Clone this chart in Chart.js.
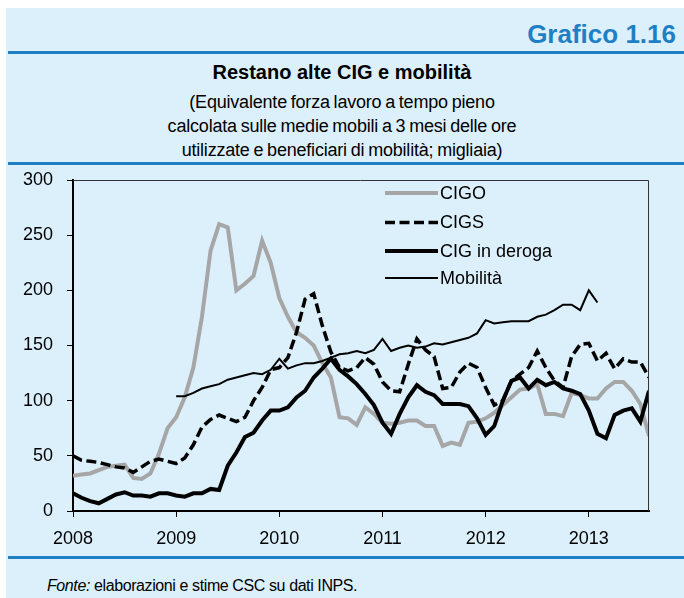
<!DOCTYPE html>
<html>
<head>
<meta charset="utf-8">
<script src="https://cdn.jsdelivr.net/npm/chart.js@4"></script>
<style>
body{margin:0;width:684px;height:598px;background:#fff;position:relative;overflow:hidden;font-family:"Liberation Sans",Arial,sans-serif;color:#000}
#box{position:absolute;left:6px;top:8px;width:678px;height:590px;background:#dcf0fc}
.rule{position:absolute;left:8px;width:676px;height:3px;background:#1f7fc4}
#num{position:absolute;right:8px;top:19px;font-weight:bold;font-size:26px;color:#1f7fc4}
#title{position:absolute;left:0;width:684px;top:61px;text-align:center;font-weight:bold;font-size:20px}
#sub{position:absolute;left:0;width:684px;top:90px;text-align:center;font-size:18px;line-height:24px;letter-spacing:-0.2px;word-spacing:-1px}
#fonte{position:absolute;left:47px;top:577px;font-size:16px;letter-spacing:-0.4px}
canvas{position:absolute;left:0;top:0}
</style>
</head>
<body>
<div id="box"></div>
<div id="num">Grafico 1.16</div>
<div class="rule" style="top:51px"></div>
<div id="title">Restano alte CIG e mobilità</div>
<div id="sub">(Equivalente forza lavoro a tempo pieno<br>calcolata sulle medie mobili a 3 mesi delle ore<br>utilizzate e beneficiari di mobilità; migliaia)</div>
<div class="rule" style="top:162px"></div>
<div class="rule" style="top:556px"></div>
<div id="fonte"><i>Fonte:</i> elaborazioni e stime CSC su dati INPS.</div>
<canvas id="canvas" width="684" height="598"></canvas>
<script>
// mesi da gennaio 2008 (0) ad agosto 2013 (67)
var yearLabels = ['2008', '2009', '2010', '2011', '2012', '2013'];
var seriesNames = ['CIGO', 'CIGS', 'CIG in deroga', 'Mobilità'];

var cigo = [32, 33, 34, 37, 40, 41, 42, 30, 29, 34, 52, 75, 85, 103, 130, 176, 236, 260, 257, 200,
    206, 213, 245, 225, 193, 176, 162, 157, 150, 134, 121, 85, 84, 78, 94, 88, 80, 79, 80, 82,
    82, 77, 77, 59, 62, 60, 80, 81, 84, 89, 96, 103, 110, 111, 115, 88, 88, 86, 107, 105,
    102, 102, 111, 117, 117, 109, 97, 68];
var cigs = [50, 46, 45, 44, 42, 40, 39, 35, 40, 45, 47, 45, 43, 48, 60, 76, 83, 87, 84, 81,
    85, 100, 112, 128, 130, 139, 162, 192, 197, 168, 144, 130, 127, 130, 139, 133, 117, 109, 108, 133,
    156, 146, 140, 111, 112, 126, 134, 130, 112, 96, 100, 118, 124, 130, 145, 130, 118, 112, 140, 151,
    152, 136, 143, 129, 138, 135, 135, 121];
var deroga = [16, 12, 9, 7, 11, 15, 17, 14, 14, 13, 16, 16, 14, 13, 16, 16, 20, 19, 41, 53,
    67, 71, 82, 91, 91, 94, 103, 109, 121, 129, 138, 128, 122, 115, 106, 96, 80, 70, 88, 103,
    114, 108, 105, 97, 97, 97, 95, 84, 69, 77, 100, 118, 121, 111, 119, 114, 117, 111, 109, 106,
    91, 70, 66, 87, 91, 93, 81, 109];
var mobilita = [null, null, null, null, null, null, null, null, null, null, null, null,
    104, 104, 107, 111, 113, 115, 119, 121, 123, 125, 124, 128, 138, 129, 132, 134, 134, 136,
    139, 142, 143, 145, 143, 146, 156, 145, 148, 150, 148, 149, 152, 151, 153, 155, 157, 161,
    173, 170, 171, 172, 172, 172, 176, 178, 182, 187, 187, 182, 200, 189];

function toPoints(arr) {
    return arr.map(function (v, i) { return { x: i, y: v }; });
}

var legendPlugin = {
    id: 'legendaInterna',
    afterDatasetsDraw: function (chart) {
        var ctx = chart.ctx;
        var rows = [193, 222.5, 251, 278];
        ctx.save();
        chart.data.datasets.forEach(function (ds, i) {
            var y = rows[i];
            ctx.beginPath();
            ctx.strokeStyle = ds.borderColor;
            ctx.lineWidth = ds.borderWidth;
            ctx.setLineDash(ds.borderDash || []);
            ctx.moveTo(385, y);
            ctx.lineTo(438, y);
            ctx.stroke();
            ctx.setLineDash([]);
            ctx.fillStyle = '#000';
            ctx.font = '18px "Liberation Sans", Arial, sans-serif';
            ctx.textBaseline = 'middle';
            ctx.fillText(ds.label, 440, y + 1);
        });
        // cornice superiore e destra
        var a = chart.chartArea;
        ctx.strokeStyle = '#333';
        ctx.lineWidth = 1;
        ctx.beginPath();
        ctx.moveTo(a.left, a.top + 0.5);
        ctx.lineTo(a.right - 0.5, a.top + 0.5);
        ctx.lineTo(a.right - 0.5, a.bottom);
        ctx.stroke();
        ctx.restore();
    }
};

var canvasElement = document.getElementById('canvas');
var config = {
    type: 'line',
    data: {
        datasets: [{
            label: seriesNames[0],
            data: toPoints(cigo),
            borderColor: '#a6a6a6',
            borderWidth: 4,
            order: 4
        }, {
            label: seriesNames[1],
            data: toPoints(cigs),
            borderColor: '#000',
            borderWidth: 3.5,
            borderDash: [10, 4.5],
            order: 3
        }, {
            label: seriesNames[2],
            data: toPoints(deroga),
            borderColor: '#000',
            borderWidth: 4,
            order: 2
        }, {
            label: seriesNames[3],
            data: toPoints(mobilita),
            borderColor: '#000',
            borderWidth: 2,
            order: 1
        }]
    },
    options: {
        responsive: false,
        animation: false,
        devicePixelRatio: 1,
        elements: {
            point: { radius: 0 },
            line: { tension: 0, borderJoinStyle: 'miter' }
        },
        layout: { padding: { top: 180, right: 35, left: 0, bottom: 0 } },
        plugins: {
            legend: { display: false },
            tooltip: { enabled: false }
        },
        scales: {
            x: {
                type: 'linear',
                min: 0,
                max: 67,
                afterBuildTicks: function (scale) {
                    scale.ticks = yearLabels.map(function (l, i) { return { value: i * 12 }; });
                },
                afterFit: function (scale) { scale.height = 87; },
                ticks: {
                    color: '#000',
                    font: { size: 18, family: '"Liberation Sans", Arial, sans-serif' },
                    padding: 11,
                    maxRotation: 0,
                    callback: function (v) { return yearLabels[v / 12]; }
                },
                grid: { drawOnChartArea: false, drawTicks: true, tickLength: 6, color: '#000' },
                border: { display: true, color: '#000', width: 2 }
            },
            y: {
                min: 0,
                max: 300,
                afterFit: function (scale) { scale.width = 73; },
                ticks: {
                    stepSize: 50,
                    color: '#000',
                    font: { size: 18, family: '"Liberation Sans", Arial, sans-serif' },
                    padding: 14
                },
                grid: { drawOnChartArea: false, drawTicks: true, tickLength: 6, color: '#000' },
                border: { display: true, color: '#000', width: 2 }
            }
        }
    },
    plugins: [legendPlugin]
};

var lineChart = new Chart(canvasElement, config);
</script>
</body>
</html>
